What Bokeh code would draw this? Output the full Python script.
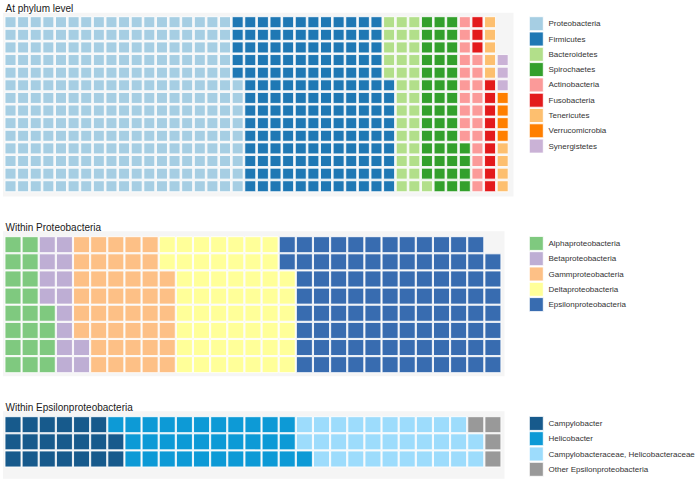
from bokeh.plotting import figure
from bokeh.models import Range1d, ColumnDataSource
from bokeh.embed import file_html
from bokeh.resources import INLINE
from bokeh.core.properties import value

# ---------------- data ----------------
titles = ["At phylum level", "Within Proteobacteria", "Within Epsilonproteobacteria"]

phylum_labels = ["Proteobacteria", "Firmicutes", "Bacteroidetes", "Spirochaetes",
                 "Actinobacteria", "Fusobacteria", "Tenericutes", "Verrucomicrobia",
                 "Synergistetes"]
phylum_counts = [261, 168, 34, 45, 21, 12, 9, 4, 3]
phylum_colors = ["#a6cee3", "#1f78b4", "#b2df8a", "#33a02c", "#fb9a99",
                 "#e31a1c", "#fdbf6f", "#ff7f00", "#cab2d6"]

proteo_labels = ["Alphaproteobacteria", "Betaproteobacteria", "Gammproteobacteria",
                 "Deltaproteobacteria", "Epsilonproteobacteria"]
proteo_counts = [20, 14, 44, 56, 97]
proteo_colors = ["#7fc97f", "#beaed4", "#fdc086", "#ffff99", "#386cb0"]

epsilon_labels = ["Campylobacter", "Helicobacter",
                  "Campylobacteraceae, Helicobacteraceae", "Other Epsilonproteobacteria"]
epsilon_counts = [20, 32, 31, 4]
epsilon_colors = ["#175a8c", "#0d9ad6", "#9ddcfc", "#999999"]

# ---------------- layout (styles) ----------------
panels = [
    dict(labels=phylum_labels, counts=phylum_counts, colors=phylum_colors, rows=14,
         x0=5.0, y0=16.7, step=12.62, size=11.0,
         bg=(2.5, 513.0, 12.3, 196.0), title_y=8.4, leg_y=23.2),
    dict(labels=proteo_labels, counts=proteo_counts, colors=proteo_colors, rows=8,
         x0=5.0, y0=236.7, step=17.14, size=16.0,
         bg=(2.5, 504.0, 230.7, 375.7), title_y=227.3, leg_y=242.9),
    dict(labels=epsilon_labels, counts=epsilon_counts, colors=epsilon_colors, rows=3,
         x0=5.0, y0=416.7, step=17.14, size=16.0,
         bg=(2.5, 504.0, 410.7, 478.3), title_y=407.3, leg_y=422.9),
]

p = figure(width=696, height=482, x_range=Range1d(0, 696), y_range=Range1d(482, 0),
           output_backend="svg", toolbar_location=None, min_border=0)
p.axis.visible = False
p.grid.visible = False
p.outline_line_color = None
p.background_fill_color = "white"
p.border_fill_color = "white"

FONT = value("Liberation Sans")

for i, pn in enumerate(panels):
    l, r, t, b = pn["bg"]
    p.quad(left=[l], right=[r], top=[t], bottom=[b], fill_color="#f5f5f5", line_color=None)
    p.text(x=[5.0], y=[pn["title_y"]], text=[titles[i]], text_font=FONT,
           text_font_size="10px", text_color="#1a1a1a", text_baseline="alphabetic",
           text_align="left")

    # waffle cells: column-major, filled bottom-to-top, left-to-right
    xs, ys, cs = [], [], []
    rows = pn["rows"]
    half = (pn["size"] - 1.0) / 2.0
    k = 0
    for cnt, col in zip(pn["counts"], pn["colors"]):
        for _ in range(cnt):
            c = k // rows
            rr = rows - 1 - (k % rows)
            xs.append(pn["x0"] + c * pn["step"] + half)
            ys.append(pn["y0"] + rr * pn["step"] + half)
            cs.append(col)
            k += 1
    src = ColumnDataSource(dict(x=xs, y=ys, c=cs))
    p.rect(x="x", y="y", width=pn["size"], height=pn["size"], source=src,
           fill_color="c", line_color="white", line_width=1, line_alpha=0.85)

    # legend
    n = len(pn["labels"])
    lys = [pn["leg_y"] + j * 15.3 for j in range(n)]
    lsrc = ColumnDataSource(dict(x=[535.8] * n, y=lys, c=pn["colors"],
                                 tx=[548.0] * n, t=pn["labels"]))
    p.rect(x="x", y="y", width=14, height=14, source=lsrc, fill_color="c",
           line_color="white", line_width=1, line_alpha=0.85)
    p.text(x="tx", y="y", text="t", source=lsrc, text_font=FONT, text_font_size="8px",
           text_color="#333333", text_baseline="middle", text_align="left")

open("out.html", "w").write(file_html(p, INLINE))
